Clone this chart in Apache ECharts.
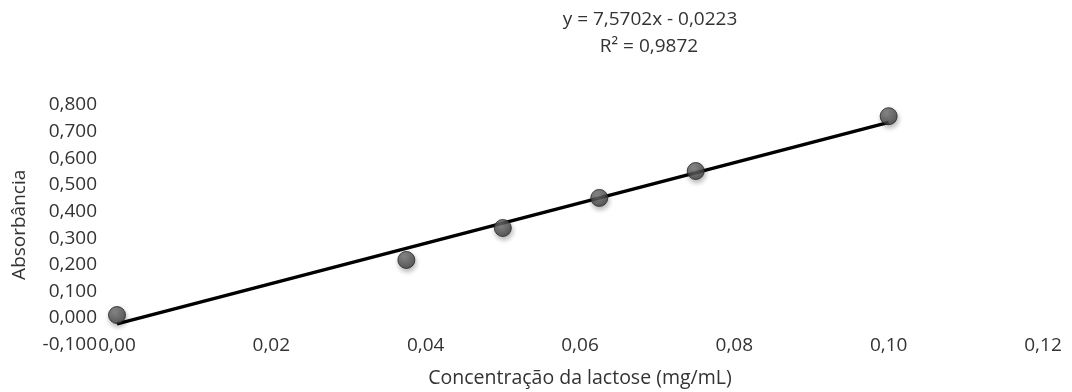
<!DOCTYPE html>
<html>
<head>
<meta charset="utf-8">
<script src="https://cdn.jsdelivr.net/npm/echarts@6/dist/echarts.min.js"></script>
<style>
  html, body { margin: 0; padding: 0; background: #fff; }
  #chart { width: 1072px; height: 392px; }
</style>
</head>
<body>
<div id="chart"></div>
<script>
// pontos medidos
const concentracao = [0, 0.0375, 0.05, 0.0625, 0.075, 0.1]
const absorbancia = [0.011, 0.218, 0.338, 0.451, 0.552, 0.758]

// linha de tendência (extremos)
const trendX = [0, 0.1]
const trendY = [-0.0223, 0.7347]

const equacao = 'y = 7,5702x - 0,0223'
const r2 = 'R² = 0,9872'

const xTitle = 'Concentração da lactose (mg/mL)'
const yTitle = 'Absorbância'

const textColor = '#333333'
const fontFamily = '"Open Sans", sans-serif'

const virgula = function (v, n) {
  return v.toFixed(n).replace('.', ',')
}

// texto da equação acima do gráfico
const textoGrafico = function (texto, x, y) {
  return {
    type: 'text',
    x: x,
    y: y,
    style: {
      text: texto,
      align: 'center',
      verticalAlign: 'middle',
      fill: textColor,
      font: '19px ' + fontFamily
    }
  }
}

let chart = echarts.init(document.getElementById('chart'))

let option = {
  animation: false,
  textStyle: { fontFamily: fontFamily },
  grid: {
    left: 117,
    right: 29,
    top: 105,
    bottom: 47.4,
    outerBoundsMode: 'none'
  },
  xAxis: {
    type: 'value',
    min: 0,
    max: 0.12,
    interval: 0.02,
    name: xTitle,
    nameLocation: 'middle',
    nameGap: 24,
    nameTextStyle: { color: textColor, fontSize: 19.5, fontFamily: fontFamily },
    axisLine: { show: false },
    axisTick: { show: false },
    splitLine: { show: false },
    axisLabel: {
      color: textColor,
      fontSize: 19,
      fontFamily: fontFamily,
      margin: -9,
      formatter: function (v) { return virgula(v, 2) }
    }
  },
  yAxis: {
    type: 'value',
    min: -0.1,
    max: 0.8,
    interval: 0.1,
    name: yTitle,
    nameLocation: 'middle',
    nameGap: 88,
    nameRotate: 90,
    nameTextStyle: { color: textColor, fontSize: 19, fontFamily: fontFamily },
    axisLine: { show: false },
    axisTick: { show: false },
    splitLine: { show: false },
    axisLabel: {
      color: textColor,
      fontSize: 19,
      fontFamily: fontFamily,
      margin: 20,
      formatter: function (v) { return virgula(v, 3) }
    }
  },
  graphic: [
    textoGrafico(equacao, 650, 20),
    textoGrafico(r2, 649, 47)
  ],
  series: [
    {
      type: 'line',
      data: trendX.map((x, i) => [x, trendY[i]]),
      symbol: 'none',
      lineStyle: { color: '#000', width: 3.5 },
      z: 2
    },
    {
      type: 'scatter',
      data: concentracao.map((x, i) => [x, absorbancia[i]]),
      symbolSize: 17,
      itemStyle: {
        color: {
          type: 'radial', x: 0.4, y: 0.35, r: 0.7,
          colorStops: [
            { offset: 0, color: '#767676' },
            { offset: 1, color: '#383838' }
          ]
        },
        borderColor: '#262626',
        borderWidth: 1,
        shadowBlur: 5,
        shadowOffsetX: 1,
        shadowOffsetY: 3,
        shadowColor: 'rgba(0,0,0,0.35)'
      },
      z: 3
    }
  ]
}

chart.setOption(option)
</script>
</body>
</html>
